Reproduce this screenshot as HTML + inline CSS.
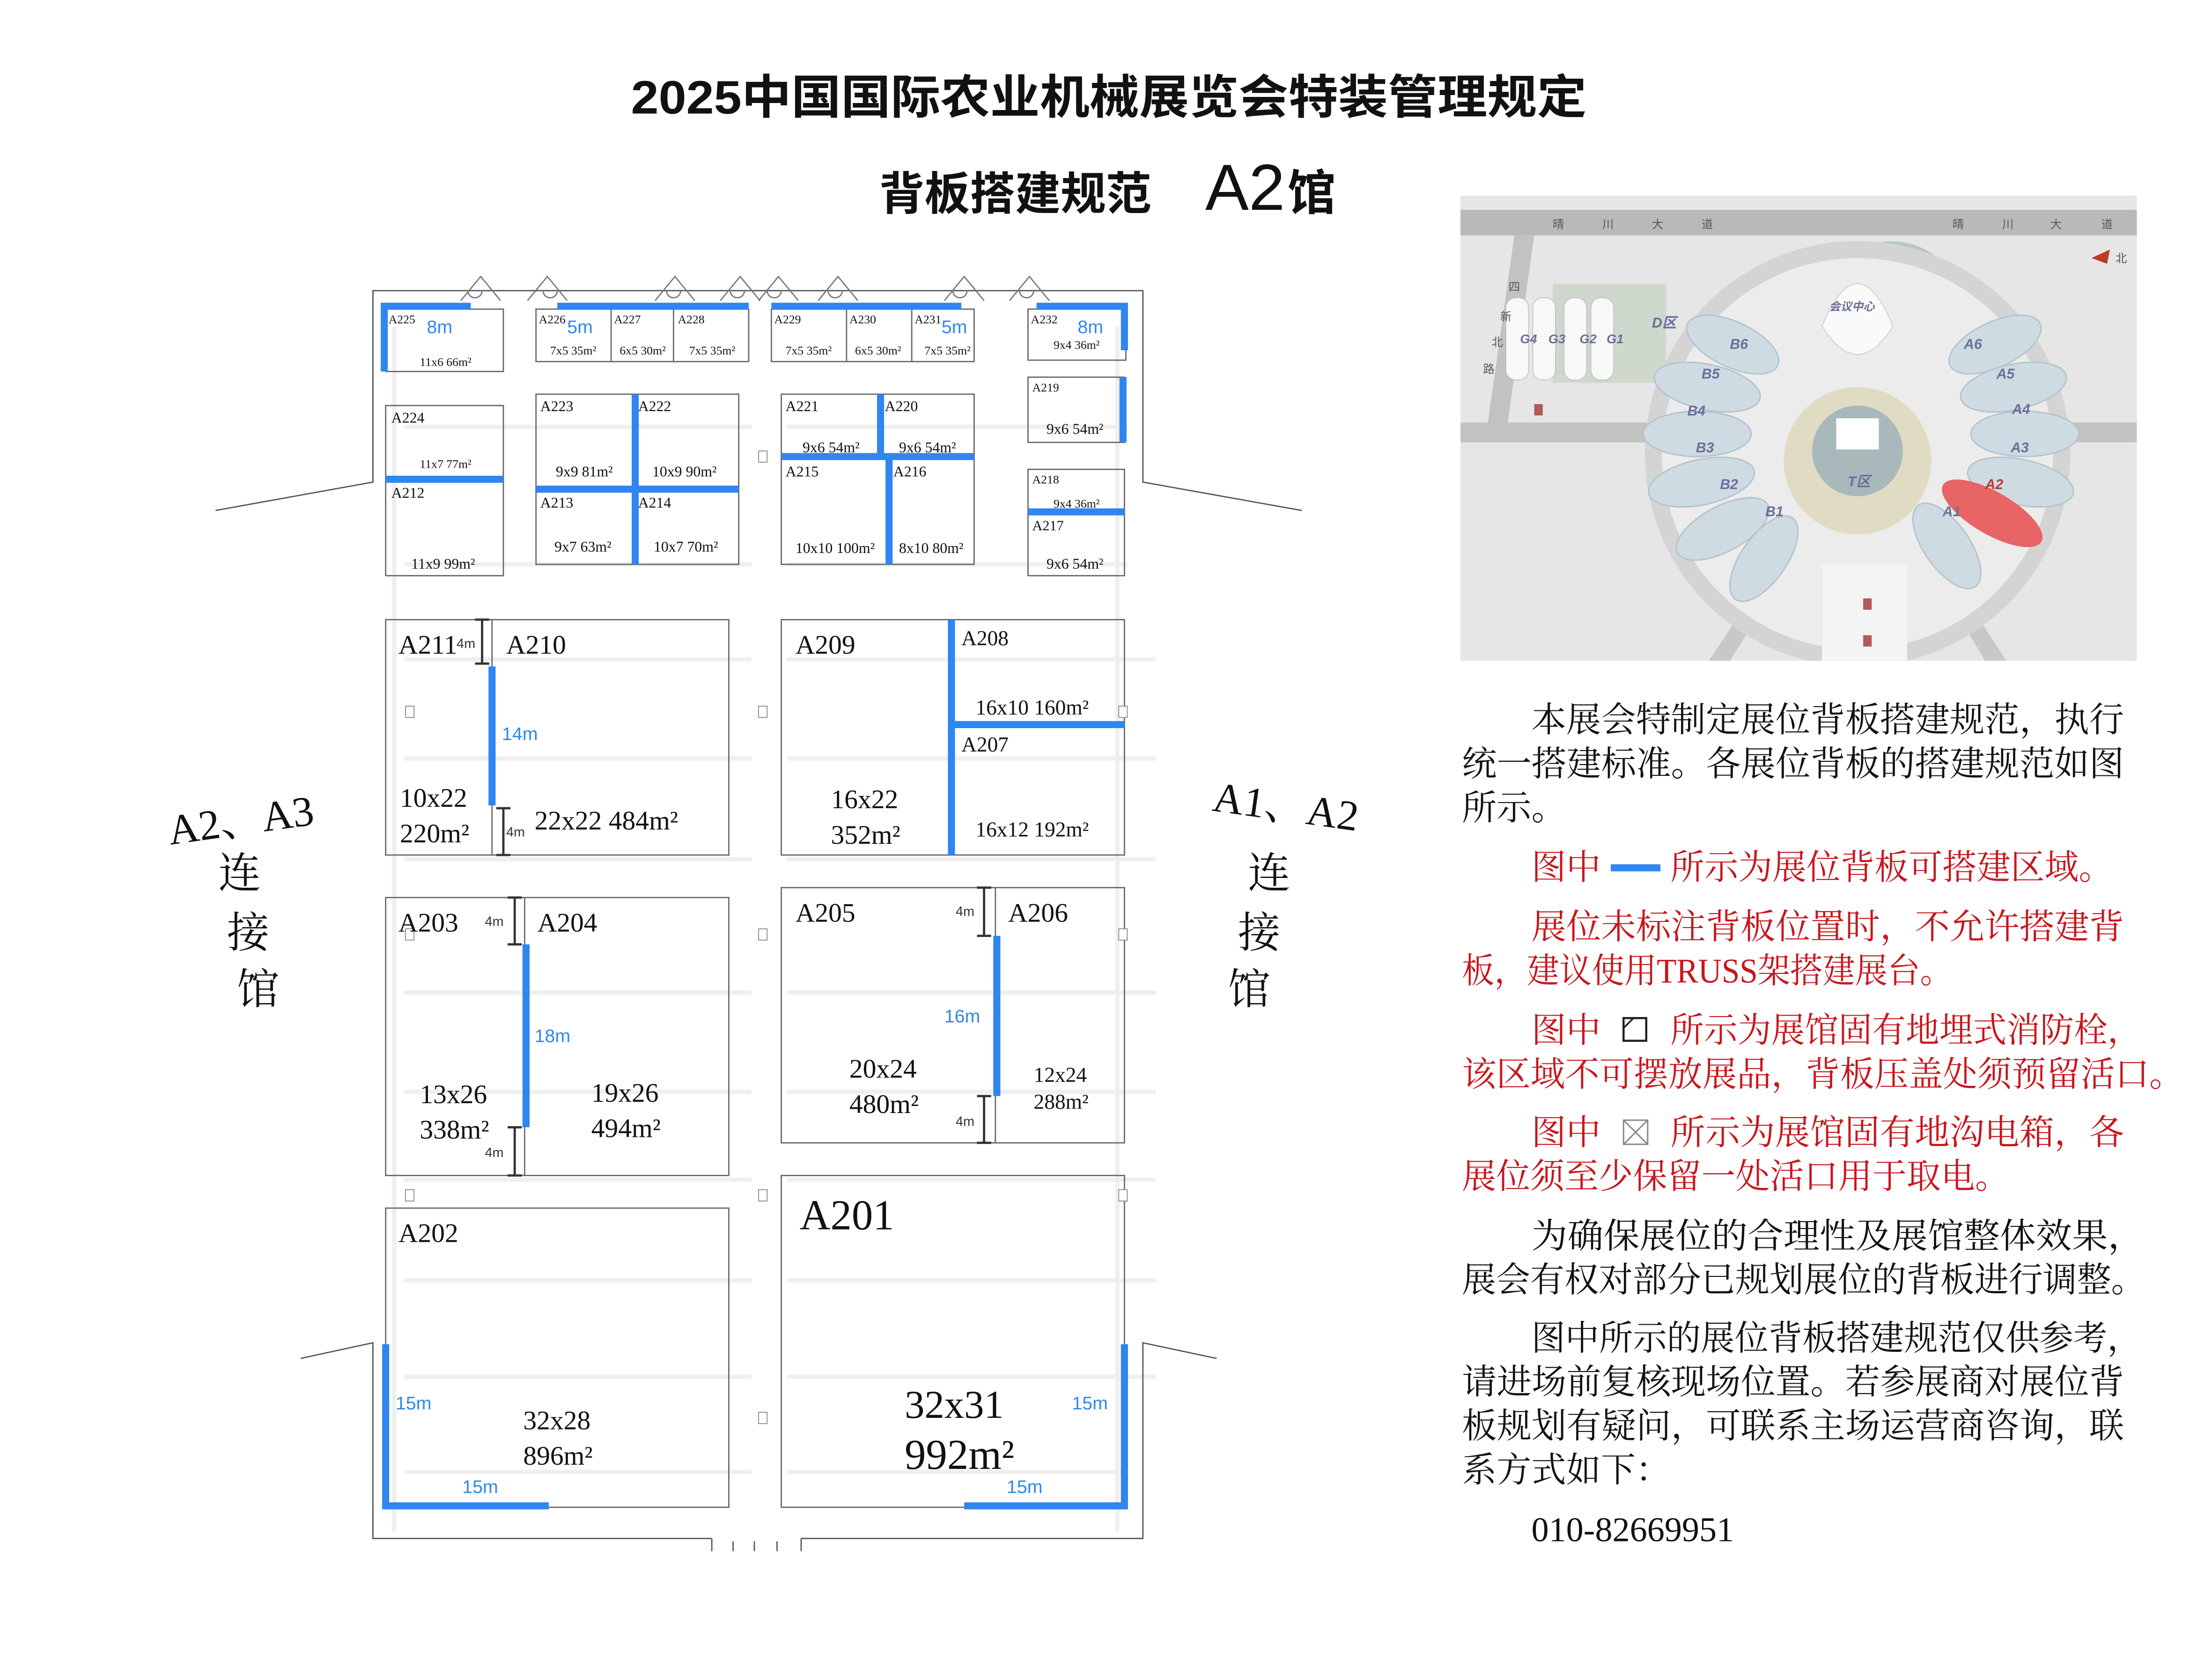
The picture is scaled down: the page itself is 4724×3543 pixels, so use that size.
<!DOCTYPE html>
<html><head><meta charset="utf-8"><style>
html,body{margin:0;padding:0;background:#fff;}
svg{display:block;}
.s{font-family:"Liberation Serif","Noto Serif CJK SC",serif;fill:#111;}
.b{font-family:"Liberation Sans",sans-serif;fill:#2f86f0;}
.k{font-family:"Liberation Sans",sans-serif;fill:#333;}
.bx{fill:none;stroke:#666;stroke-width:0.9;}
.bl{stroke:#2f86f0;stroke-width:5;fill:none;}
.w{fill:none;stroke:#555;stroke-width:0.9;}
.g{stroke:#efefef;stroke-width:3;fill:none;}
.dm{stroke:#333;stroke-width:1.6;fill:none;}
.t{font-family:"Liberation Serif","Noto Serif CJK SC",serif;font-size:24.5px;}
.r{fill:#c8161d;}
.mp{font-family:"Liberation Sans","Noto Sans CJK SC",sans-serif;font-weight:bold;fill:#6a6f9a;font-style:italic;}
</style></head><body>
<svg width="4724" height="3543" viewBox="0 0 1560 1170" xmlns="http://www.w3.org/2000/svg">
<defs><clipPath id="mc"><rect x="1030" y="138" width="477" height="328"/></clipPath></defs>
<rect width="1560" height="1170" fill="#fff"/>
<!-- titles -->
<text x="782" y="80" text-anchor="middle" font-family="'Liberation Sans','Noto Sans CJK SC',sans-serif" font-size="33" font-weight="bold" fill="#111" textLength="674" lengthAdjust="spacingAndGlyphs">2025中国国际农业机械展览会特装管理规定</text>
<text x="620" y="148" font-family="'Liberation Sans','Noto Sans CJK SC',sans-serif" font-size="32" font-weight="bold" fill="#111">背板搭建规范</text>
<text x="850" y="148" font-family="'Liberation Sans','Noto Sans CJK SC',sans-serif" font-size="46" fill="#111">A2</text>
<text x="908" y="148" font-family="'Liberation Sans','Noto Sans CJK SC',sans-serif" font-size="34" font-weight="bold" fill="#111">馆</text>

<!-- faint grid rows -->
<g class="g">
<line x1="285" y1="301" x2="530" y2="301"/><line x1="555" y1="301" x2="795" y2="301"/>
<line x1="285" y1="398" x2="530" y2="398"/><line x1="555" y1="398" x2="795" y2="398"/>
<line x1="285" y1="465" x2="530" y2="465"/><line x1="555" y1="465" x2="815" y2="465"/>
<line x1="285" y1="535" x2="530" y2="535"/><line x1="555" y1="535" x2="815" y2="535"/>
<line x1="285" y1="606" x2="530" y2="606"/><line x1="555" y1="606" x2="815" y2="606"/>
<line x1="285" y1="700" x2="530" y2="700"/><line x1="555" y1="700" x2="815" y2="700"/>
<line x1="285" y1="770" x2="530" y2="770"/><line x1="555" y1="770" x2="815" y2="770"/>
<line x1="285" y1="832" x2="530" y2="832"/><line x1="555" y1="832" x2="815" y2="832"/>
<line x1="285" y1="903" x2="530" y2="903"/><line x1="555" y1="903" x2="815" y2="903"/>
<line x1="285" y1="971" x2="530" y2="971"/><line x1="555" y1="971" x2="815" y2="971"/>
<line x1="285" y1="1038" x2="530" y2="1038"/><line x1="555" y1="1038" x2="795" y2="1038"/>
<line x1="278" y1="230" x2="278" y2="1080"/><line x1="788" y1="230" x2="788" y2="1080"/>
</g>

<!-- hall walls -->
<g class="w">
<polyline points="152,360 263,340 263,205 806,205 806,340 918,360"/>
<polyline points="212,958 263,947 263,1085 502,1085"/>
<polyline points="858,958 806,947 806,1085 565,1085"/>
<line x1="502" y1="1085" x2="502" y2="1094"/><line x1="517" y1="1087" x2="517" y2="1094"/><line x1="532" y1="1087" x2="532" y2="1094"/><line x1="548" y1="1087" x2="548" y2="1094"/><line x1="565" y1="1085" x2="565" y2="1094"/>
</g>
<!-- doors -->
<g fill="none" stroke="#777" stroke-width="0.9">
<polyline points="325,212 339,195 353,212"/><polyline points="372,212 386,195 400,212"/>
<polyline points="462,212 476,195 490,212"/><polyline points="508,212 522,195 536,212"/>
<polyline points="535,212 549,195 563,212"/><polyline points="577,212 591,195 605,212"/>
<polyline points="666,212 680,195 694,212"/><polyline points="712,212 726,195 740,212"/>
<path d="M330,205 a5,5 0 0 0 10,0 M383,205 a5,5 0 0 0 10,0 M470,205 a5,5 0 0 0 10,0 M515,205 a5,5 0 0 0 10,0 M541,205 a5,5 0 0 0 10,0 M584,205 a5,5 0 0 0 10,0 M672,205 a5,5 0 0 0 10,0 M719,205 a5,5 0 0 0 10,0"/>
</g>

<!-- booth boxes -->
<g class="bx">
<rect x="272" y="218" width="83" height="44"/>
<rect x="378" y="218" width="150" height="37"/><line x1="431" y1="218" x2="431" y2="255"/><line x1="475" y1="218" x2="475" y2="255"/>
<rect x="544" y="218" width="143" height="37"/><line x1="597" y1="218" x2="597" y2="255"/><line x1="643" y1="218" x2="643" y2="255"/>
<rect x="725" y="218" width="69" height="36"/>
<rect x="272" y="286" width="83" height="120"/>
<rect x="378" y="278" width="143" height="120"/>
<rect x="551" y="278" width="136" height="120"/>
<rect x="725" y="266" width="68" height="46"/>
<rect x="725" y="331" width="68" height="75"/>
<rect x="272" y="437" width="242" height="166"/><line x1="347" y1="437" x2="347" y2="603"/>
<rect x="551" y="437" width="242" height="166"/>
<rect x="272" y="633" width="242" height="196"/><line x1="370" y1="633" x2="370" y2="829"/>
<rect x="551" y="626" width="242" height="180"/><line x1="702" y1="626" x2="702" y2="806"/>
<rect x="272" y="852" width="242" height="211"/>
<rect x="551" y="829" width="242" height="234"/>
</g>

<!-- blue backwall lines -->
<g class="bl">
<polyline points="332,216 271,216 271,262"/>
<line x1="393" y1="216" x2="528" y2="216"/>
<line x1="544" y1="216" x2="678" y2="216"/>
<polyline points="731,216 793,216 793,247"/>
<line x1="272" y1="338" x2="355" y2="338"/>
<line x1="448" y1="278" x2="448" y2="398"/><line x1="378" y1="345" x2="521" y2="345"/>
<line x1="621" y1="278" x2="621" y2="322"/><line x1="551" y1="322" x2="687" y2="322"/><line x1="627" y1="322" x2="627" y2="398"/>
<line x1="792" y1="266" x2="792" y2="312"/>
<line x1="725" y1="361" x2="793" y2="361"/>
<line x1="347" y1="470" x2="347" y2="568"/>
<line x1="671" y1="437" x2="671" y2="603"/><line x1="671" y1="511" x2="793" y2="511"/>
<line x1="371" y1="666" x2="371" y2="795"/>
<line x1="703" y1="660" x2="703" y2="773"/>
<polyline points="272,948 272,1062 387,1062"/>
<polyline points="680,1062 793,1062 793,948"/>
</g>

<!-- dimension marks -->
<g class="dm">
<path d="M335,437h10M340,437v31M335,468h10"/>
<path d="M350,570h10M355,570v33M350,603h10"/>
<path d="M358,633h10M363,633v33M358,666h10"/>
<path d="M358,795h10M363,795v34M358,829h10"/>
<path d="M689,626h10M694,626v34M689,660h10"/>
<path d="M689,773h10M694,773v33M689,806h10"/>
</g>

<!-- hydrants -->
<g fill="#fff" stroke="#888" stroke-width="0.6">
<rect x="535" y="318" width="6" height="8"/><rect x="286" y="498" width="6" height="8"/><rect x="535" y="498" width="6" height="8"/><rect x="789" y="498" width="6" height="8"/>
<rect x="286" y="655" width="6" height="8"/><rect x="535" y="655" width="6" height="8"/><rect x="789" y="655" width="6" height="8"/>
<rect x="286" y="839" width="6" height="8"/><rect x="535" y="839" width="6" height="8"/><rect x="789" y="839" width="6" height="8"/><rect x="535" y="996" width="6" height="8"/>
</g>

<!-- labels -->
<g class="s">
<g font-size="8.5">
<text x="274" y="228">A225</text><text x="380" y="228">A226</text><text x="433" y="228">A227</text><text x="478" y="228">A228</text>
<text x="546" y="228">A229</text><text x="599" y="228">A230</text><text x="645" y="228">A231</text><text x="727" y="228">A232</text>
<text x="296" y="258">11x6 66m²</text>
<text x="388" y="250">7x5 35m²</text><text x="437" y="250">6x5 30m²</text><text x="486" y="250">7x5 35m²</text>
<text x="554" y="250">7x5 35m²</text><text x="603" y="250">6x5 30m²</text><text x="652" y="250">7x5 35m²</text>
<text x="743" y="246">9x4 36m²</text>
<text x="743" y="358">9x4 36m²</text>
<text x="296" y="330">11x7 77m²</text>
</g>
<g font-size="10.5">
<text x="276" y="298">A224</text><text x="276" y="351">A212</text>
<text x="381" y="290">A223</text><text x="450" y="290">A222</text><text x="381" y="358">A213</text><text x="450" y="358">A214</text>
<text x="554" y="290">A221</text><text x="624" y="290">A220</text><text x="554" y="336">A215</text><text x="630" y="336">A216</text>
<text x="290" y="401">11x9 99m²</text>
<text x="392" y="336">9x9 81m²</text><text x="460" y="336">10x9 90m²</text>
<text x="391" y="389">9x7 63m²</text><text x="461" y="389">10x7 70m²</text>
<text x="566" y="319">9x6 54m²</text><text x="634" y="319">9x6 54m²</text>
<text x="561" y="390">10x10 100m²</text><text x="634" y="390">8x10 80m²</text>
<text x="738" y="306">9x6 54m²</text><text x="738" y="401">9x6 54m²</text>
</g>
<g font-size="8.5"><text x="728" y="276">A219</text><text x="728" y="341">A218</text></g>
<text x="728" y="374" font-size="10">A217</text>
<g font-size="19">
<text x="281" y="461">A211</text><text x="357" y="461">A210</text>
<text x="561" y="461">A209</text>
<text x="282" y="569">10x22</text><text x="282" y="594">220m²</text>
<text x="377" y="585">22x22  484m²</text>
<text x="586" y="570">16x22</text><text x="586" y="595">352m²</text>
<text x="281" y="657">A203</text><text x="379" y="657">A204</text>
<text x="561" y="650">A205</text><text x="711" y="650">A206</text>
<text x="296" y="778">13x26</text><text x="296" y="803">338m²</text>
<text x="417" y="777">19x26</text><text x="417" y="802">494m²</text>
<text x="599" y="760">20x24</text><text x="599" y="785">480m²</text>
<text x="281" y="876">A202</text>
<text x="369" y="1008">32x28</text><text x="369" y="1033">896m²</text>
</g>
<g font-size="15">
<text x="678" y="455">A208</text><text x="678" y="530">A207</text>
<text x="688" y="504">16x10  160m²</text><text x="688" y="590">16x12  192m²</text>
<text x="729" y="763">12x24</text><text x="729" y="782">288m²</text>
</g>
<text x="564" y="867" font-size="30">A201</text>
<text x="638" y="1000" font-size="28">32x31</text>
<text x="638" y="1036" font-size="30">992m²</text>
</g>
<g class="b">
<text x="301" y="235" font-size="13">8m</text><text x="400" y="235" font-size="13">5m</text>
<text x="664" y="235" font-size="13">5m</text><text x="760" y="235" font-size="13">8m</text>
<text x="354" y="522" font-size="13">14m</text><text x="377" y="735" font-size="13">18m</text>
<text x="666" y="721" font-size="13">16m</text>
<text x="279" y="994" font-size="13">15m</text><text x="326" y="1053" font-size="13">15m</text>
<text x="756" y="994" font-size="13">15m</text><text x="710" y="1053" font-size="13">15m</text>
</g>
<g class="k" font-size="9.5">
<text x="322" y="457">4m</text><text x="357" y="590">4m</text>
<text x="342" y="653">4m</text><text x="342" y="816">4m</text>
<text x="674" y="646">4m</text><text x="674" y="794">4m</text>
</g>

<!-- side labels -->
<g font-family="'Liberation Serif','Noto Serif CJK SC',serif" font-size="30" fill="#111">
<text x="118" y="590" transform="rotate(-8 160 578)">A2、A3</text>
<text x="154" y="626">连</text><text x="160" y="668">接</text><text x="167" y="708">馆</text>
<text x="855" y="578" transform="rotate(8 900 570)">A1、A2</text>
<text x="880" y="626">连</text><text x="873" y="668">接</text><text x="866" y="708">馆</text>
</g>

<!-- map -->
<g clip-path="url(#mc)">
<rect x="1030" y="138" width="477" height="328" fill="#e6e6e6"/>
<rect x="1030" y="148" width="477" height="18" fill="#b9b9b9"/>
<polygon points="1068,166 1082,166 1063,300 1049,300" fill="#c2c2c2"/>
<rect x="1030" y="298" width="160" height="14" fill="#c2c2c2"/>
<rect x="1430" y="298" width="77" height="14" fill="#c2c2c2"/>
<polygon points="1250,400 1262,400 1220,466 1205,466" fill="#c8c8c8"/>
<polygon points="1360,400 1372,400 1415,466 1400,466" fill="#c8c8c8"/>
<rect x="1095" y="200" width="80" height="70" fill="#cfd8cc"/>
<g fill="#f8f8f8" stroke="#bbb" stroke-width="0.5">
<rect x="1062" y="210" width="16" height="58" rx="7"/><rect x="1081" y="210" width="16" height="58" rx="7"/><rect x="1103" y="210" width="16" height="58" rx="7"/><rect x="1122" y="210" width="16" height="58" rx="7"/>
</g>
<path d="M1220,230 Q1260,160 1320,172 Q1370,160 1400,230 Z" fill="#b8c6cc"/>
<circle cx="1310" cy="320" r="150" fill="#d4d4d4"/>
<circle cx="1310" cy="320" r="138" fill="#ececec"/>
<g fill="#cfdbe2" stroke="#b5c3cc" stroke-width="1">
<ellipse cx="1222" cy="243" rx="35" ry="16" transform="rotate(25 1222 243)"/>
<ellipse cx="1204" cy="273" rx="38" ry="16" transform="rotate(12 1204 273)"/>
<ellipse cx="1197" cy="306" rx="38" ry="16"/>
<ellipse cx="1200" cy="340" rx="38" ry="16" transform="rotate(-12 1200 340)"/>
<ellipse cx="1215" cy="373" rx="36" ry="16" transform="rotate(-28 1215 373)"/>
<ellipse cx="1244" cy="394" rx="35" ry="16" transform="rotate(-55 1244 394)"/>
<ellipse cx="1407" cy="243" rx="35" ry="16" transform="rotate(-25 1407 243)"/>
<ellipse cx="1420" cy="273" rx="38" ry="16" transform="rotate(-12 1420 273)"/>
<ellipse cx="1428" cy="306" rx="38" ry="16"/>
<ellipse cx="1425" cy="340" rx="38" ry="16" transform="rotate(12 1425 340)"/>
<ellipse cx="1373" cy="385" rx="35" ry="16" transform="rotate(55 1373 385)"/>
</g>
<ellipse cx="1405" cy="362" rx="40" ry="15" transform="rotate(30 1405 362)" fill="#e96464"/>
<circle cx="1310" cy="325" r="52" fill="#e0dcc4"/>
<circle cx="1310" cy="318" r="32" fill="#a9b9bb"/>
<rect x="1295" y="295" width="30" height="22" fill="#fff"/>
<path d="M1285,230 Q1310,170 1335,230 Q1310,270 1285,230Z" fill="#fafafa" stroke="#ccc" stroke-width="0.6"/>
<rect x="1285" y="398" width="60" height="68" fill="#f4f4f4"/>
<g class="mp" font-size="10">
<text x="1220" y="246">B6</text><text x="1200" y="267">B5</text><text x="1190" y="293">B4</text><text x="1196" y="319">B3</text><text x="1213" y="345">B2</text><text x="1245" y="364">B1</text>
<text x="1385" y="246">A6</text><text x="1408" y="267">A5</text><text x="1419" y="292">A4</text><text x="1418" y="319">A3</text><text x="1400" y="345" fill="#b73a3a">A2</text><text x="1370" y="364">A1</text>
<text x="1303" y="343">T区</text><text x="1165" y="231">D区</text>
<text x="1072" y="242" font-size="9">G4</text><text x="1092" y="242" font-size="9">G3</text><text x="1114" y="242" font-size="9">G2</text><text x="1133" y="242" font-size="9">G1</text>
<text x="1290" y="219" font-size="8">会议中心</text>
</g>
<g font-family="'Noto Sans CJK SC',sans-serif" font-size="8" fill="#555">
<text x="1095" y="161">晴</text><text x="1130" y="161">川</text><text x="1165" y="161">大</text><text x="1200" y="161">道</text>
<text x="1377" y="161">晴</text><text x="1412" y="161">川</text><text x="1446" y="161">大</text><text x="1482" y="161">道</text>
<text x="1064" y="205">四</text><text x="1058" y="226">新</text><text x="1052" y="244">北</text><text x="1046" y="263">路</text>
<text x="1492" y="185">北</text>
</g>
<polygon points="1475,182 1488,176 1486,186" fill="#c0392b"/>
<g fill="#b05a5a"><rect x="1314" y="422" width="6" height="8"/><rect x="1314" y="448" width="6" height="8"/><rect x="1082" y="285" width="6" height="8"/></g>
</g>

<!-- description text -->
<g class="t" fill="#111">
<text x="1080" y="516" textLength="418" lengthAdjust="spacingAndGlyphs">本展会特制定展位背板搭建规范，执行</text>
<text x="1031" y="547" textLength="467" lengthAdjust="spacingAndGlyphs">统一搭建标准。各展位背板的搭建规范如图</text>
<text x="1031" y="578">所示。</text>
<g class="r">
<text x="1080" y="620">图中</text>
<text x="1178" y="620" textLength="312" lengthAdjust="spacingAndGlyphs">所示为展位背板可搭建区域。</text>
<text x="1080" y="662" textLength="418" lengthAdjust="spacingAndGlyphs">展位未标注背板位置时，不允许搭建背</text>
<text x="1031" y="693" textLength="346" lengthAdjust="spacingAndGlyphs">板，建议使用TRUSS架搭建展台。</text>
<text x="1080" y="735">图中</text>
<text x="1178" y="735" textLength="332" lengthAdjust="spacingAndGlyphs">所示为展馆固有地埋式消防栓，</text>
<text x="1031" y="766" textLength="509" lengthAdjust="spacingAndGlyphs">该区域不可摆放展品，背板压盖处须预留活口。</text>
<text x="1080" y="807">图中</text>
<text x="1178" y="807" textLength="320" lengthAdjust="spacingAndGlyphs">所示为展馆固有地沟电箱，各</text>
<text x="1031" y="838" textLength="386" lengthAdjust="spacingAndGlyphs">展位须至少保留一处活口用于取电。</text>
</g>
<text x="1080" y="880" textLength="432" lengthAdjust="spacingAndGlyphs">为确保展位的合理性及展馆整体效果，</text>
<text x="1031" y="911" textLength="482" lengthAdjust="spacingAndGlyphs">展会有权对部分已规划展位的背板进行调整。</text>
<text x="1080" y="952" textLength="430" lengthAdjust="spacingAndGlyphs">图中所示的展位背板搭建规范仅供参考，</text>
<text x="1031" y="983" textLength="467" lengthAdjust="spacingAndGlyphs">请进场前复核现场位置。若参展商对展位背</text>
<text x="1031" y="1014" textLength="467" lengthAdjust="spacingAndGlyphs">板规划有疑问，可联系主场运营商咨询，联</text>
<text x="1031" y="1045">系方式如下：</text>
<text x="1080" y="1087">010-82669951</text>
</g>
<!-- legend icons -->
<line x1="1136" y1="612" x2="1171" y2="612" stroke="#2f86f0" stroke-width="5"/>
<rect x="1145" y="718" width="16" height="16" fill="none" stroke="#222" stroke-width="1.5"/>
<line x1="1152" y1="718" x2="1145" y2="725" stroke="#222" stroke-width="1.2"/>
<g fill="none" stroke="#888" stroke-width="1"><rect x="1145" y="790" width="17" height="17"/><path d="M1145,790L1162,807M1162,790L1145,807"/></g>
</svg>
</body></html>
